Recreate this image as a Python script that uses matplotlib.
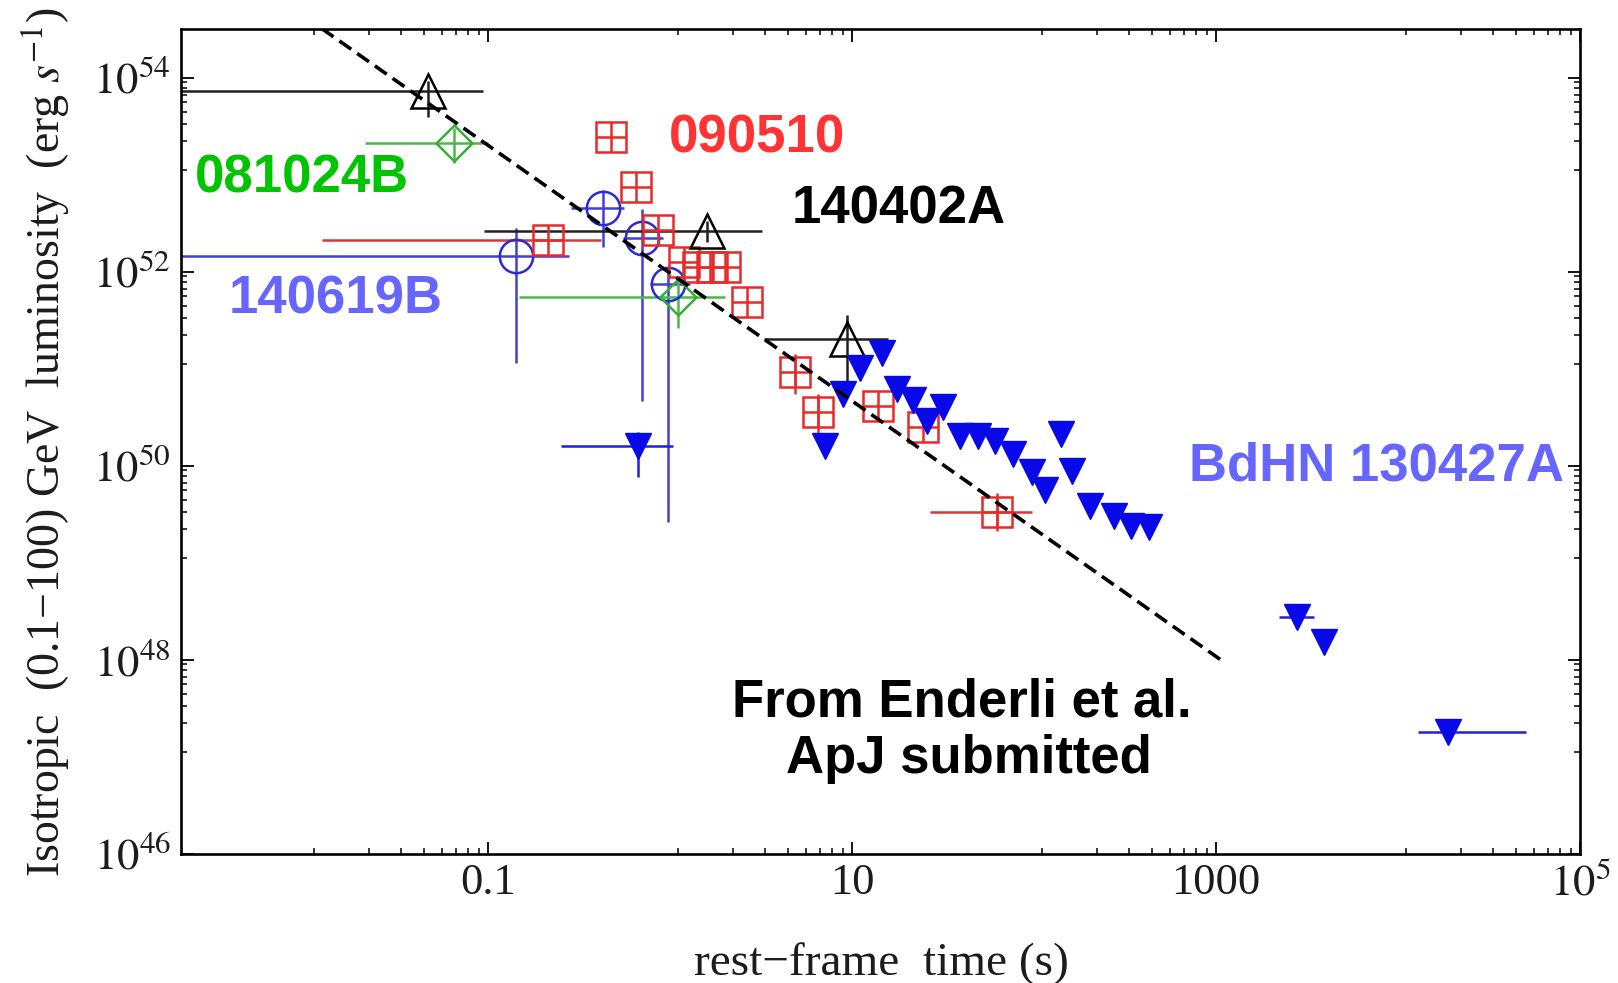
import numpy as np
import matplotlib
matplotlib.use("Agg")
import matplotlib.pyplot as plt
from matplotlib.ticker import FixedLocator, FixedFormatter, NullFormatter

# ---------------- data ----------------
# GRB 140402A (open black triangles)
k_t = [0.047, 1.6, 9.4]
k_L = [7.2e53, 2.6e52, 2.0e51]
k_t_lo = [0.0015, 0.095, 3.3]
k_t_hi = [0.094, 3.2, 15.7]
k_L_lo = [3.9e53, 2.0e52, 7.4e50]
k_L_hi = [9.2e53, 3.3e52, 3.6e51]

# GRB 081024B (open green diamonds)
g_t = [0.065, 1.11]
g_L = [2.1e53, 5.5e51]
g_t_lo = [0.021, 0.148]
g_t_hi = [0.10, 2.0]
g_L_lo = [1.3e53, 2.6e51]
g_L_hi = [3.0e53, 8.3e51]

# GRB 140619B (open blue circles)
c_t = [0.142, 0.427, 0.706, 0.98]
c_L = [1.46e52, 4.5e52, 2.24e52, 7.4e51]
c_t_lo = [0.0015, 0.285, 0.55, 0.78]
c_t_hi = [0.278, 0.556, 0.92, 1.29]
c_L_lo = [1.15e51, 1.78e52, 4.6e50, 2.6e49]
c_L_hi = [2.8e52, 7.0e52, 4.4e52, 1.1e52]

# GRB 090510 (open red squares with cross)
r_t = [0.472, 0.647, 0.213, 0.855, 1.19, 1.42, 1.71, 2.01, 2.66, 4.87, 6.5, 13.9, 24.5, 62.4]
r_L = [2.45e53, 7.5e52, 2.1e52, 2.7e52, 1.26e52, 1.1e52, 1.12e52, 1.1e52, 4.8e51,
       9.3e50, 3.55e50, 4.1e50, 2.5e50, 3.3e49]
r_t_lo = [0.472, 0.647, 0.0122, 0.855, 1.19, 1.42, 1.71, 2.01, 2.66, 4.87, 6.5, 13.9, 24.5, 26.7]
r_t_hi = [0.472, 0.647, 0.42, 0.855, 1.19, 1.42, 1.71, 2.01, 2.66, 4.87, 6.5, 13.9, 24.5, 98.0]
r_L_lo = [2.45e53, 7.5e52, 2.1e52, 2.7e52, 1.26e52, 1.1e52, 1.12e52, 1.1e52, 4.8e51,
          5.5e50, 1.8e50, 4.1e50, 2.5e50, 2.1e49]
r_L_hi = [2.45e53, 7.5e52, 2.1e52, 2.7e52, 1.26e52, 1.1e52, 1.12e52, 1.1e52, 4.8e51,
          1.4e51, 5.5e50, 4.1e50, 3.3e50, 5.2e49]

# BdHN 130427A (filled blue down-triangles)
b_t = [0.664, 7.1, 8.93, 11.1, 14.6, 17.6, 21.6, 25.8, 31.5, 39.1, 49.0, 60.8, 76.3,
       98.0, 115.6, 141.5, 162.6, 204.0, 276.0, 342.0, 430.0, 2780.0, 3900.0, 18900.0]
b_L = [1.57e50, 1.57e50, 5.4e50, 1.02e51, 1.46e51, 6.2e50, 4.7e50, 2.9e50, 4.0e50, 2.0e50,
       2.0e50, 1.78e50, 1.3e50, 8.5e49, 5.6e49, 2.1e50, 8.7e49, 3.8e49, 3.0e49, 2.4e49,
       2.3e49, 2.75e48, 1.5e48, 1.8e47]
b_t_lo = [0.251] + b_t[1:21] + [2213.0, 3900.0, 12900.0]
b_t_hi = [1.045] + b_t[1:21] + [3440.0, 3900.0, 50600.0]
b_L_lo = [7.6e49] + b_L[1:]
b_L_hi = [2.2e50] + b_L[1:]

# power-law fit (dashed line) end points
fit_t = [0.0122, 1064.0]
fit_L = [3.2e54, 9.9e47]

x_major = [0.1, 10, 1000, 1e5]
x_major_labels = ["0.1", "10", "1000", r"$10^{5}$"]
y_major = [1e46, 1e48, 1e50, 1e52, 1e54]
y_major_labels = [r"$10^{46}$", r"$10^{48}$", r"$10^{50}$", r"$10^{52}$", r"$10^{54}$"]

# ---------------- style ----------------
plt.rcParams["font.family"] = "serif"
plt.rcParams["font.serif"] = ["Liberation Serif", "DejaVu Serif"]
plt.rcParams["mathtext.fontset"] = "stix"

RED = "#e82a2a"
GREEN = "#35b035"
BLUE_C = "#2a2ad0"
BLUE_T = "#0808e8"
TXT = "#1c1c1c"

fig = plt.figure(figsize=(16.18, 9.83), dpi=100)
ax = fig.add_axes([180.7 / 1618, (983 - 853.5) / 983, 1399.3 / 1618, 824.5 / 983])
ax.set_xscale("log")
ax.set_yscale("log")
ax.set_xlim(0.00205, 1e5)
ax.set_ylim(1e46, 10 ** 54.5)


def errs(v, lo, hi):
    v = np.asarray(v, float)
    return [v - np.asarray(lo, float), np.asarray(hi, float) - v]


lw_e = 1.8
mew = 1.8

# fit line
ax.plot(fit_t, fit_L, color="black", lw=2.6, dashes=(4, 2), zorder=5)

# 140619B circles
ax.errorbar(c_t, c_L, xerr=errs(c_t, c_t_lo, c_t_hi), yerr=errs(c_L, c_L_lo, c_L_hi),
            fmt="none", ecolor="#4040d8", elinewidth=lw_e, capsize=0, zorder=2)
ax.plot(c_t, c_L, ls="none", marker="o", ms=24, mfc="none", mec=BLUE_C, mew=mew, zorder=3)

# 081024B diamonds
ax.errorbar(g_t, g_L, xerr=errs(g_t, g_t_lo, g_t_hi), yerr=errs(g_L, g_L_lo, g_L_hi),
            fmt="none", ecolor="#4cb84c", elinewidth=lw_e, capsize=0, zorder=2)
ax.plot(g_t, g_L, ls="none", marker="D", ms=18.5, mfc="none", mec=GREEN, mew=mew, zorder=3)

# 090510 squares
ax.errorbar(r_t, r_L, xerr=errs(r_t, r_t_lo, r_t_hi), yerr=errs(r_L, r_L_lo, r_L_hi),
            fmt="none", ecolor="#d83838", elinewidth=lw_e, capsize=0, zorder=2)
ax.plot(r_t, r_L, ls="none", marker="s", ms=22, mfc="none", mec=RED, mew=mew, zorder=3)
ax.plot(r_t, r_L, ls="none", marker="+", ms=22, mec=RED, mew=mew, zorder=3)

# 140402A triangles
ax.errorbar(k_t, k_L, xerr=errs(k_t, k_t_lo, k_t_hi), yerr=errs(k_L, k_L_lo, k_L_hi),
            fmt="none", ecolor="#202020", elinewidth=lw_e, capsize=0, zorder=2)
ax.plot(k_t, k_L, ls="none", marker="^", ms=25, mfc="none", mec="black", mew=mew, zorder=3)

# 130427A filled triangles
ax.errorbar(b_t, b_L, xerr=errs(b_t, b_t_lo, b_t_hi), yerr=errs(b_L, b_L_lo, b_L_hi),
            fmt="none", ecolor="#2020d8", elinewidth=lw_e, capsize=0, zorder=2)
ax.plot(b_t, b_L, ls="none", marker="v", ms=18.5, mfc=BLUE_T, mec=BLUE_T, mew=1, zorder=4)

# ---------------- axes ----------------
x_minor = [m * k / 9 for m in x_major for k in range(1, 9)]
y_minor = [m * k / 9 for m in y_major + [1e56] for k in range(1, 9)]
ax.xaxis.set_major_locator(FixedLocator(x_major))
ax.xaxis.set_major_formatter(FixedFormatter(x_major_labels))
ax.xaxis.set_minor_locator(FixedLocator(x_minor))
ax.xaxis.set_minor_formatter(NullFormatter())
ax.yaxis.set_major_locator(FixedLocator(y_major))
ax.yaxis.set_major_formatter(FixedFormatter(y_major_labels))
ax.yaxis.set_minor_locator(FixedLocator(y_minor))
ax.yaxis.set_minor_formatter(NullFormatter())

ax.tick_params(which="both", direction="in", top=True, right=True, colors="black")
ax.tick_params(which="major", length=9, width=1.3)
ax.tick_params(which="minor", length=4.5, width=1.1)
ax.tick_params(axis="x", which="major", labelsize=32, pad=7, labelcolor=TXT)
ax.tick_params(axis="y", which="major", labelsize=32, pad=7, labelcolor=TXT)
for s in ax.spines.values():
    s.set_linewidth(1.9)

ax.set_xlabel("rest\u2212frame  time (s)", fontsize=34, color=TXT)
ax.xaxis.set_label_coords(0.5005, -0.108)
ax.set_ylabel("Isotropic  (0.1\u2212100) GeV  luminosity  (erg $s^{-1}$)", fontsize=33, color=TXT,
              va="center")
ax.yaxis.set_label_coords(-0.0963, 0.499)

# ---------------- annotations ----------------
ann = dict(transform=ax.transAxes, family="Liberation Sans", weight="bold", fontsize=38,
           ha="center", va="baseline")
ax.text(0.0867, 0.8023, "081024B", color="#00c400", **ann)
ax.text(0.4115, 0.8508, "090510", color="#ff3333", **ann)
ax.text(0.5133, 0.7647, "140402A", color="black", **ann)
ax.text(0.1110, 0.6555, "140619B", color="#6666ff", **ann)
ax.text(0.8546, 0.4530, "BdHN 130427A", color="#6666ff", **ann)
ax.text(0.5580, 0.1656, "From Enderli et al.", color="black", **ann)
ax.text(0.5630, 0.0976, "ApJ submitted", color="black", **ann)

fig.savefig("out.png", dpi=100)
